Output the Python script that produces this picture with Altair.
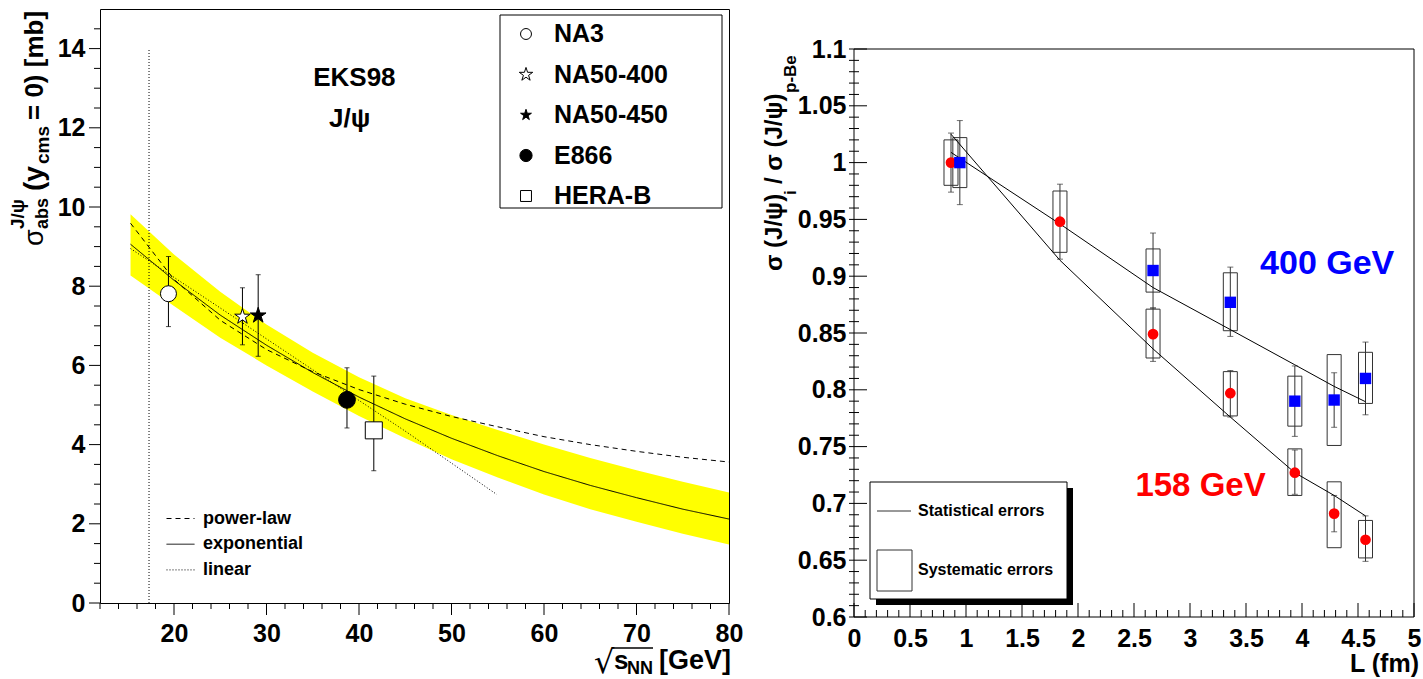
import altair as alt
import numpy as np
import pandas as pd

FONT = "Liberation Sans"

# ---------------- left panel: sigma_abs(J/psi) versus sqrt(s_NN) ----------------
experiments = ["NA3", "NA50-400", "NA50-450", "E866", "HERA-B"]
exp_sqrt_s = [19.4, 27.4, 29.1, 38.7, 41.6]
exp_sigma = [7.81, 7.23, 7.26, 5.13, 4.36]
exp_err_lo = [6.98, 6.52, 6.23, 4.42, 3.34]
exp_err_hi = [8.75, 7.96, 8.29, 5.94, 5.73]

model_names = ["power-law", "exponential", "linear"]
curve_x = [15.3, 20, 25, 30, 35, 40, 45, 50, 55, 60, 65, 70, 75, 80]
power_law = [9.59, 8.17, 7.14, 6.40, 5.84, 5.39, 5.02, 4.71, 4.45, 4.20, 4.00, 3.83, 3.68, 3.56]
exponential = [9.06, 8.15, 7.27, 6.51, 5.82, 5.20, 4.65, 4.16, 3.72, 3.32, 2.97, 2.66, 2.37, 2.12]
band_hi = [9.82, 8.80, 7.86, 7.03, 6.32, 5.70, 5.17, 4.75, 4.37, 4.00, 3.66, 3.35, 3.06, 2.79]
band_lo = [8.27, 7.50, 6.70, 6.00, 5.34, 4.72, 4.16, 3.63, 3.17, 2.74, 2.37, 2.05, 1.75, 1.48]
linear_x = [15.3, 25, 35, 45, 54.9]
linear = [8.95, 7.45, 5.89, 4.34, 2.74]
sps_energy = 17.3
sps_line_top = 14.0
left_x_labels = [20, 30, 40, 50, 60, 70, 80]
left_y_labels = [0, 2, 4, 6, 8, 10, 12, 14]

# ---------------- right panel: J/psi ratio versus L ----------------
L_158 = [0.866, 1.839, 2.67, 3.36, 3.936, 4.287, 4.567]
ratio_158 = [1.000, 0.948, 0.849, 0.797, 0.727, 0.691, 0.668]
stat_lo_158 = [0.974, 0.915, 0.825, 0.776, 0.708, 0.675, 0.649]
stat_hi_158 = [1.026, 0.981, 0.872, 0.817, 0.747, 0.707, 0.689]
sys_lo_158 = [0.980, 0.921, 0.828, 0.777, 0.707, 0.661, 0.652]
sys_hi_158 = [1.020, 0.975, 0.871, 0.816, 0.748, 0.719, 0.685]

L_400 = [0.945, 2.67, 3.36, 3.936, 4.287, 4.567]
ratio_400 = [1.000, 0.905, 0.877, 0.790, 0.791, 0.810]
stat_lo_400 = [0.963, 0.872, 0.847, 0.759, 0.767, 0.778]
stat_hi_400 = [1.037, 0.938, 0.908, 0.821, 0.815, 0.842]
sys_lo_400 = [0.978, 0.886, 0.852, 0.768, 0.751, 0.788]
sys_hi_400 = [1.022, 0.924, 0.903, 0.812, 0.831, 0.833]

fit_L = [0.866, 1.839, 2.67, 3.36, 3.936, 4.287, 4.567]
fit_158 = [1.025, 0.914, 0.836, 0.776, 0.727, 0.707, 0.689]
fit_400 = [1.009, 0.946, 0.890, 0.853, 0.822, 0.803, 0.7895]

right_x_labels = [0, 0.5, 1, 1.5, 2, 2.5, 3, 3.5, 4, 4.5, 5]
right_y_labels = [0.6, 0.65, 0.7, 0.75, 0.8, 0.85, 0.9, 0.95, 1.0, 1.05, 1.1]
right_x_range = [0, 5]
right_y_range = [0.6, 1.1]

# ---------------- panel geometry ----------------
LW, LH = 629, 594
RW, RFRAME = 570, 568          # right frame size
RTOP = 40                      # empty strip above the right frame
RH = RFRAME + RTOP

XS_L = alt.Scale(domain=[12, 80], nice=False, zero=False)
YS_L = alt.Scale(domain=[0, 15], nice=False, zero=False)
XS_R = alt.Scale(domain=right_x_range, nice=False, zero=False)
y_top_r = right_y_range[1] + (right_y_range[1] - right_y_range[0]) * RTOP / RFRAME
YS_R = alt.Scale(domain=[right_y_range[0], y_top_r], nice=False, zero=False)


def axis(values, pad, fmt):
    return alt.Axis(values=values, title=None, ticks=False, tickSize=0, domain=False,
                    grid=False, labelFont=FONT, labelFontSize=25, labelFontWeight="bold",
                    labelColor="black", labelPadding=pad, labelFlush=False,
                    labelOverlap=False, format=fmt)


AX_LX = axis(left_x_labels, 18, "d")
AX_LY = axis(left_y_labels, 15, "d")
AX_RX = axis(right_x_labels, 9, "~g")
AX_RY = axis(right_y_labels, 3, "~g")


def lx(f):
    return alt.X(f, type="quantitative", scale=XS_L, axis=AX_LX)


def ly(f):
    return alt.Y(f, type="quantitative", scale=YS_L, axis=AX_LY)


def rx(f):
    return alt.X(f, type="quantitative", scale=XS_R, axis=AX_RX)


def ry(f):
    return alt.Y(f, type="quantitative", scale=YS_R, axis=AX_RY)


anchor = pd.DataFrame({"a": [0]})


def txt(s, x, y, size, angle=0, align="left", baseline="alphabetic", color="black",
        weight="bold", font=FONT):
    return alt.Chart(anchor).mark_text(
        text=s, fontSize=size, angle=angle, align=align, baseline=baseline,
        color=color, fontWeight=weight, font=font
    ).encode(x=alt.value(x), y=alt.value(y))


def tick_rules(df, **enc):
    return alt.Chart(df).mark_rule(color="black", strokeWidth=1).encode(**enc)


# ---------------- left panel layers ----------------
STAR = ("M0,-1L0.2245,-0.309L0.9511,-0.309L0.3633,0.118L0.5878,0.809L0,0.382"
        "L-0.5878,0.809L-0.3633,0.118L-0.9511,-0.309L-0.2245,-0.309Z")
marker_shapes = ["circle", STAR, STAR, "circle", "square"]
marker_fills = ["white", "white", "black", "black", "white"]
marker_sizes = [256, 290, 290, 225, 256]
legend_sizes = [120, 200, 130, 150, 120]

df_exp = pd.DataFrame({"exp": experiments, "s": exp_sqrt_s, "sigma": exp_sigma,
                       "lo": exp_err_lo, "hi": exp_err_hi})
df_band = pd.DataFrame({"s": curve_x, "lo": band_lo, "hi": band_hi})
df_curves = pd.concat([
    pd.DataFrame({"s": curve_x, "v": power_law, "model": "power-law"}),
    pd.DataFrame({"s": curve_x, "v": exponential, "model": "exponential"}),
    pd.DataFrame({"s": linear_x, "v": linear, "model": "linear"}),
], ignore_index=True)
df_sps = pd.DataFrame({"s": [sps_energy], "y0": [0.0], "y1": [sps_line_top]})

band = alt.Chart(df_band).mark_area(color="#ffff00", opacity=1).encode(
    x=lx("s"), y=ly("lo"), y2="hi")

sps_line = alt.Chart(df_sps).mark_rule(color="black", strokeWidth=1, strokeDash=[1, 2]).encode(
    x=lx("s"), y=ly("y0"), y2="y1")

curves = alt.Chart(df_curves).mark_line(color="black", strokeWidth=1).encode(
    x=lx("s"), y=ly("v"),
    strokeDash=alt.StrokeDash(
        "model:N",
        scale=alt.Scale(domain=model_names, range=[[5, 4], [1, 0], [1, 2]]),
        legend=alt.Legend(orient="none", legendX=66, legendY=495, title=None,
                          symbolType="stroke", symbolSize=784, symbolStrokeWidth=1,
                          symbolStrokeColor="black", labelFont=FONT, labelFontSize=18,
                          labelFontWeight="bold", labelColor="black", labelOffset=8,
                          rowPadding=1.7, padding=0, zindex=1)))

err_l = alt.Chart(df_exp).mark_rule(color="black", strokeWidth=1).encode(
    x=lx("s"), y=ly("lo"), y2="hi")
cap_lo_l = alt.Chart(df_exp).mark_tick(color="black", orient="horizontal", size=5,
                                       thickness=1).encode(x=lx("s"), y=ly("lo"))
cap_hi_l = alt.Chart(df_exp).mark_tick(color="black", orient="horizontal", size=5,
                                       thickness=1).encode(x=lx("s"), y=ly("hi"))

points_l = alt.Chart(df_exp).mark_point(filled=True, stroke="black", strokeWidth=1,
                                        opacity=1).encode(
    x=lx("s"), y=ly("sigma"),
    shape=alt.Shape("exp:N", scale=alt.Scale(domain=experiments, range=marker_shapes),
                    legend=None),
    fill=alt.Fill("exp:N", scale=alt.Scale(domain=experiments, range=marker_fills),
                  legend=None),
    size=alt.Size("exp:N", scale=alt.Scale(domain=experiments, range=marker_sizes),
                  legend=None))

# boxed marker key in the upper right corner
key_l = [alt.Chart(anchor).mark_rect(fillOpacity=0, stroke="black", strokeWidth=1).encode(
    x=alt.value(400), x2=alt.value(622), y=alt.value(6), y2=alt.value(199))]
for i, name in enumerate(experiments):
    row_y = 25 + 40.5 * i
    key_l.append(alt.Chart(anchor).mark_point(
        shape=marker_shapes[i], filled=True, fill=marker_fills[i], stroke="black",
        strokeWidth=1, size=legend_sizes[i], opacity=1
    ).encode(x=alt.value(426), y=alt.value(row_y)))
    key_l.append(txt(name, 454, row_y, 25, baseline="middle"))

# outward ticks of the left frame
ly_major = pd.DataFrame({"v": left_y_labels})
ly_minor = pd.DataFrame({"v": [v for v in np.arange(0.5, 15.0, 0.5) if v % 2 != 0]})
lx_major = pd.DataFrame({"v": left_x_labels})
lx_minor = pd.DataFrame({"v": [v for v in range(12, 80, 2) if v % 10 != 0]})
ticks_l = [
    tick_rules(ly_major, y=ly("v"), x=alt.value(-11), x2=alt.value(0)),
    tick_rules(ly_minor, y=ly("v"), x=alt.value(-6), x2=alt.value(0)),
    tick_rules(lx_major, x=lx("v"), y=alt.value(LH), y2=alt.value(LH + 12)),
    tick_rules(lx_minor, x=lx("v"), y=alt.value(LH), y2=alt.value(LH + 6)),
]

eks_text = alt.Chart(anchor).mark_text(text="EKS98", font=FONT, fontSize=26, fontWeight="bold",
                                       color="black").encode(x=alt.datum(39.5), y=alt.datum(13.26))
jpsi_text = alt.Chart(anchor).mark_text(text="J/ψ", font=FONT, fontSize=26, fontWeight="bold",
                                        color="black").encode(x=alt.datum(39.0), y=alt.datum(12.23))

# axis titles built from pieces (sub/superscripts)
ytitle_l = [
    txt("σ", -57, 237, 27, angle=270, weight="normal"),
    txt("abs", -52, 220, 18, angle=270),
    txt("J/ψ", -76, 220, 19, angle=270),
    txt("(y", -57, 182, 28, angle=270),
    txt("cms", -51, 155, 19, angle=270),
    txt("= 0) [mb]", -57, 111, 26, angle=270),
]
xtitle_l = [
    txt("√", 494, 664, 32, weight="normal", font="DejaVu Sans"),
    alt.Chart(anchor).mark_rule(color="black", strokeWidth=1.5).encode(
        x=alt.value(512), x2=alt.value(553), y=alt.value(639)),
    txt("s", 514, 660, 26),
    txt("NN", 527, 665, 18),
    txt("[GeV]", 559, 660, 27),
]

spacer_l = alt.Chart(anchor).mark_rule(strokeOpacity=0).encode(
    x=alt.value(-99), x2=alt.value(LW + 20), y=alt.value(0))

left = alt.layer(
    band, sps_line, curves, err_l, cap_lo_l, cap_hi_l, points_l, *ticks_l,
    eks_text, jpsi_text, *key_l, *ytitle_l, *xtitle_l, spacer_l
).properties(width=LW, height=LH)

# ---------------- right panel layers ----------------
df_r = pd.concat([
    pd.DataFrame({"L": L_158, "r": ratio_158, "slo": stat_lo_158, "shi": stat_hi_158,
                  "ylo": sys_lo_158, "yhi": sys_hi_158, "beam": "158 GeV"}),
    pd.DataFrame({"L": L_400, "r": ratio_400, "slo": stat_lo_400, "shi": stat_hi_400,
                  "ylo": sys_lo_400, "yhi": sys_hi_400, "beam": "400 GeV"}),
], ignore_index=True)
df_fit = pd.concat([
    pd.DataFrame({"L": fit_L, "v": fit_158, "beam": "158 GeV"}),
    pd.DataFrame({"L": fit_L, "v": fit_400, "beam": "400 GeV"}),
], ignore_index=True)

frame_r = alt.Chart(anchor).mark_rect(fillOpacity=0, stroke="black", strokeWidth=1).encode(
    x=alt.X(datum=right_x_range[0], scale=XS_R, axis=AX_RX), x2=alt.datum(right_x_range[1]),
    y=alt.Y(datum=right_y_range[0], scale=YS_R, axis=AX_RY), y2=alt.datum(right_y_range[1]))

sys_boxes = alt.Chart(df_r).mark_bar(size=14, fillOpacity=0, stroke="#333333",
                                     strokeWidth=1).encode(x=rx("L"), y=ry("ylo"), y2="yhi")
stat_bars = alt.Chart(df_r).mark_rule(color="#333333", strokeWidth=1).encode(
    x=rx("L"), y=ry("slo"), y2="shi")
cap_lo_r = alt.Chart(df_r).mark_tick(color="#333333", orient="horizontal", size=6,
                                     thickness=1).encode(x=rx("L"), y=ry("slo"))
cap_hi_r = alt.Chart(df_r).mark_tick(color="#333333", orient="horizontal", size=6,
                                     thickness=1).encode(x=rx("L"), y=ry("shi"))
fits = alt.Chart(df_fit).mark_line(color="black", strokeWidth=1).encode(
    x=rx("L"), y=ry("v"), detail="beam:N")
red_pts = alt.Chart(df_r).transform_filter(alt.datum.beam == "158 GeV").mark_circle(
    color="#ff0000", size=115, opacity=1).encode(x=rx("L"), y=ry("r"))
blue_pts = alt.Chart(df_r).transform_filter(alt.datum.beam == "400 GeV").mark_square(
    color="#0000ff", size=130, opacity=1).encode(x=rx("L"), y=ry("r"))

label_400 = alt.Chart(anchor).mark_text(text="400 GeV", font=FONT, fontSize=34,
                                        fontWeight="bold", color="#0000ff").encode(
    x=alt.datum(4.225), y=alt.datum(0.911))
label_158 = alt.Chart(anchor).mark_text(text="158 GeV", font=FONT, fontSize=33,
                                        fontWeight="bold", color="#ff0000").encode(
    x=alt.datum(3.094), y=alt.datum(0.7155))

# inward ticks of the right frame
ry_major = pd.DataFrame({"v": right_y_labels})
ry_minor = pd.DataFrame({"v": [round(v, 2) for v in np.arange(0.61, 1.1, 0.01)
                               if round(v * 100) % 5 != 0]})
rx_major = pd.DataFrame({"v": right_x_labels})
rx_minor = pd.DataFrame({"v": [round(v, 1) for v in np.arange(0.1, 5.0, 0.1)
                               if round(v * 10) % 5 != 0]})
ticks_r = [
    tick_rules(ry_major, y=ry("v"), x=alt.value(0), x2=alt.value(18)),
    tick_rules(ry_minor, y=ry("v"), x=alt.value(0), x2=alt.value(10)),
    tick_rules(rx_major, x=rx("v"), y=alt.value(RH), y2=alt.value(RH - 14)),
    tick_rules(rx_minor, x=rx("v"), y=alt.value(RH), y2=alt.value(RH - 7)),
]

# error key with drop shadow
T = RTOP
legend_r = [
    alt.Chart(anchor).mark_rect(fill="black").encode(
        x=alt.value(27), x2=alt.value(224), y=alt.value(T + 439), y2=alt.value(T + 556)),
    alt.Chart(anchor).mark_rect(fill="white", stroke="black", strokeWidth=1).encode(
        x=alt.value(21), x2=alt.value(218), y=alt.value(T + 433), y2=alt.value(T + 550)),
    alt.Chart(anchor).mark_rule(color="#333333", strokeWidth=1).encode(
        x=alt.value(28), x2=alt.value(62), y=alt.value(T + 462)),
    alt.Chart(anchor).mark_rect(fill="white", stroke="#333333", strokeWidth=1).encode(
        x=alt.value(28), x2=alt.value(63), y=alt.value(T + 501), y2=alt.value(T + 542)),
    txt("Statistical errors", 69, T + 462, 16, baseline="middle"),
    txt("Systematic errors", 69, T + 521, 16, baseline="middle"),
]

ytitle_r = [
    txt("σ (J/ψ)", -67, T + 222, 24, angle=270),
    txt("i", -53, T + 146, 17, angle=270),
    txt("/ σ (J/ψ)", -67, T + 135, 24, angle=270),
    txt("p-Be", -53, T + 44, 17, angle=270),
]
xtitle_r = [txt("L (fm)", RW, T + 623, 25, align="right")]

spacer_r = alt.Chart(anchor).mark_rule(strokeOpacity=0).encode(
    x=alt.value(-95), x2=alt.value(RW), y=alt.value(0))

right = alt.layer(
    frame_r, sys_boxes, stat_bars, cap_lo_r, cap_hi_r, fits, red_pts, blue_pts, *ticks_r,
    label_400, label_158, *legend_r, *ytitle_r, *xtitle_r, spacer_r
).properties(width=RW, height=RH, view=alt.ViewBackground(stroke="transparent"))

chart = alt.hconcat(left, right, spacing=3).properties(
    padding={"left": 0, "top": 8, "right": 0, "bottom": 0}
).configure_view(stroke="black", strokeWidth=1).configure_concat(spacing=3)

chart.save("out.html", embed_options={"renderer": "svg", "actions": False})
